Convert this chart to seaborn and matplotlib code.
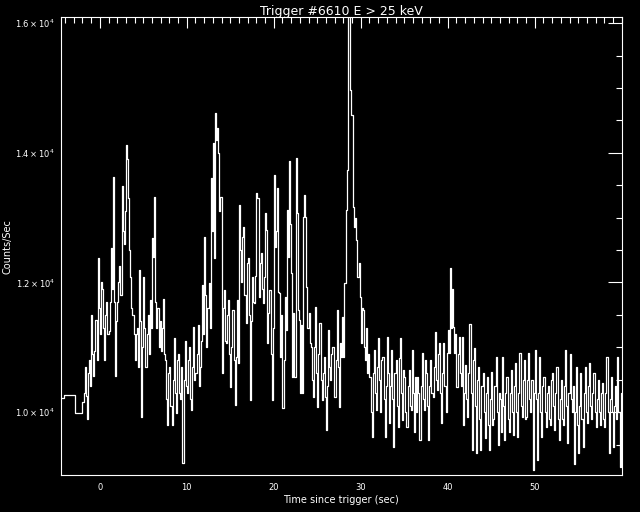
#!/usr/bin/env python3
"""
BATSE-style light curve: Trigger #6610, E > 25 keV.
White step curve on black, IDL look.
"""
import numpy as np
import pandas as pd
import matplotlib
matplotlib.use("Agg")
import matplotlib.pyplot as plt
from matplotlib.ticker import MultipleLocator, FixedLocator
import seaborn as sns

# CONFIGURATION
TITLE = "Trigger #6610 E > 25 keV"
X_LABEL = "Time since trigger (sec)"
Y_LABEL = "Counts/Sec"

# coarse pre-trigger bins: start times and rates
PRE_T = [-4.5, -4.1, -2.8]
PRE_COUNTS = [10211, 10257, 9979]

# fine bins: 0.125 s wide, first one starts at -2.0 s (one row = 1 s)
FINE_T0 = -2.0
FINE_DT = 0.125
T_END = 60.0
FINE_COUNTS = [
    10150, 10300, 10700, 10250, 9900, 10600, 10800, 10400,     # -2
    11500, 10900, 10550, 10950, 11420, 10800, 12370, 11600,    # -1
    11200, 12000, 11900, 11300, 10800, 11500, 11700, 11200,    # 0
    11250, 11700, 12530, 11900, 13625, 11700, 10550, 11400,    # 1
    11700, 12000, 12250, 11800, 13490, 12800, 12600, 13100,    # 2
    14120, 13900, 13300, 12500, 12090, 11600, 11500, 11200,    # 3
    10800, 11200, 11300, 10700, 12190, 11400, 9930, 11000,     # 4
    12090, 11300, 10700, 11200, 11500, 10900, 11730, 11300,    # 5
    12680, 12400, 13325, 11700, 11300, 11600, 11000, 11400,    # 6
    10950, 11300, 11750, 10900, 10800, 10200, 9800, 10600,     # 7
    10700, 10100, 9800, 10500, 11140, 10300, 9980, 10800,      # 8
    10900, 10300, 10200, 10700, 9210, 10500, 11100, 10400,     # 9
    10300, 10800, 11000, 10200, 10030, 10700, 11310, 10500,    # 10
    10600, 10900, 11340, 10400, 10700, 11100, 11960, 11200,    # 11
    12700, 11800, 11009, 11600, 11990, 11300, 13610, 12800,    # 12
    14150, 12370, 14610, 14200, 14380, 14000, 13100, 13325,    # 13
    10600, 11600, 11880, 11100, 11060, 11500, 11730, 10900,    # 14
    10391, 11000, 11575, 10800, 10108, 10850, 11730, 10750,    # 15
    13197, 12500, 12000, 12700, 12862, 11800, 11370, 12300,    # 16
    12373, 11500, 10185, 11400, 12090, 11700, 11678, 12100,    # 17
    13377, 13300, 11781, 12300, 12451, 11900, 11678, 12090,    # 18
    13068, 12811, 11060, 11524, 11884, 10900, 10185, 11300,    # 19
    13660, 12553, 12800, 13455, 11858, 11833, 10855, 11500,    # 20
    10057, 10803, 11781, 11266, 13120, 12400, 13876, 12900,    # 21
    12142, 10546, 11524, 10546, 13918, 13068, 11575, 11421,    # 22
    10288, 11340, 10288, 13017, 13351, 13010, 11935, 11300,    # 23
    11524, 11060, 11009, 10500, 10236, 11000, 11627, 10600,    # 24
    10082, 10900, 11370, 10500, 10185, 10600, 10855, 10236,    # 25
    9722, 10400, 11266, 10700, 10494, 10900, 11009, 10236,     # 26
    10236, 10800, 11575, 10700, 10082, 11060, 10855, 11472,    # 27
    10855, 11987, 13120, 13737, 16105, 16105, 14973, 14587,    # 28
    14587, 13171, 12862, 13000, 12656, 12090, 12300, 11781,    # 29
    11060, 11600, 11575, 11000, 10803, 11300, 10600, 10900,    # 30
    10546, 10000, 9619, 10600, 10958, 10300, 10031, 10700,     # 31
    11138, 10500, 10000, 10800, 10855, 10200, 9619, 10400,     # 32
    11163, 10600, 9825, 10400, 10958, 10200, 9464, 10597,      # 33
    10803, 10100, 9773, 10829, 11138, 10300, 9876, 10649,      # 34
    10546, 10000, 9773, 10400, 10649, 10100, 10031, 10958,     # 35
    10300, 9700, 10546, 10000, 10546, 10288, 9568, 10400,      # 36
    10906, 10200, 10031, 10800, 10597, 10100, 9568, 10400,     # 37
    10803, 10300, 10236, 10700, 11241, 10500, 10340, 10900,    # 38
    11060, 10300, 9825, 10600, 11060, 10400, 10005, 10906,     # 39
    11266, 10906, 12219, 11292, 11895, 11318, 10906, 11200,    # 40
    10391, 10900, 11163, 10600, 10400, 11163, 9799, 10300,     # 41
    10726, 10200, 9928, 10600, 11359, 10300, 9413, 10800,      # 42
    10983, 10100, 9362, 10500, 10700, 9900, 9413, 10400,       # 43
    10597, 10000, 9600, 10300, 10546, 9800, 9413, 10200,       # 44
    10623, 9800, 9900, 10400, 10855, 10000, 9500, 10300,       # 45
    10200, 9700, 10855, 10100, 9568, 10300, 10546, 9900,       # 46
    9700, 10300, 10649, 10000, 9645, 10400, 10752, 10000,      # 47
    9619, 10300, 10906, 10100, 9928, 10500, 10800, 9900,       # 48
    9928, 10500, 10906, 10200, 10000, 10500, 9104, 10300,      # 49
    10958, 10200, 9259, 10300, 10855, 10000, 9619, 10400,      # 50
    10546, 10000, 9773, 10300, 10400, 9900, 9800, 10500,       # 51
    10597, 10100, 9722, 10300, 10700, 9900, 9568, 10200,       # 52
    10500, 9900, 9800, 10400, 10958, 10100, 9516, 10300,       # 53
    10900, 10200, 10000, 10400, 9207, 10000, 10700, 9800,      # 54
    9362, 10100, 10600, 9900, 9465, 10300, 10700, 10000,       # 55
    9825, 10400, 10752, 10100, 9900, 10300, 10597, 10000,      # 56
    9773, 10200, 10500, 10000, 9800, 10300, 10443, 9900,       # 57
    9773, 10300, 10855, 10000, 9362, 10200, 10546, 10000,      # 58
    9465, 10100, 10400, 9900, 10855, 10000, 9156, 10300,       # 59
]

X_TICKS = [0, 10, 20, 30, 40, 50]
Y_TICKS = [10000, 12000, 14000, 16000]
Y_TICK_LABELS = [r"$1.0\times10^{4}$", r"$1.2\times10^{4}$",
                 r"$1.4\times10^{4}$", r"$1.6\times10^{4}$"]
X_RANGE = (-4.5, 60.0)
Y_RANGE = (9030, 16090)


def main():
    # bin start times, then close the last bin with its end edge
    fine_t = FINE_T0 + FINE_DT * np.arange(len(FINE_COUNTS))
    t = np.concatenate([PRE_T, fine_t, [T_END]])
    counts = np.concatenate([PRE_COUNTS, FINE_COUNTS, [FINE_COUNTS[-1]]])
    df = pd.DataFrame({"time": t, "counts": counts})

    sns.set_style("dark")
    plt.rcParams["font.family"] = ["DejaVu Sans"]
    plt.rcParams["mathtext.fontset"] = "dejavusans"

    fig = plt.figure(figsize=(6.4, 5.12), dpi=100, facecolor="black")
    ax = fig.add_axes([0.0948, 0.0723, 0.8766, 0.8939])
    ax.set_facecolor("black")

    sns.lineplot(data=df, x="time", y="counts", ax=ax, color="white",
                 linewidth=0.9, drawstyle="steps-post", estimator=None,
                 sort=False)

    ax.set_xlim(*X_RANGE)
    ax.set_ylim(*Y_RANGE)
    ax.grid(False)

    # IDL-like axes: inward ticks on all four sides
    for s in ax.spines.values():
        s.set_color("white")
        s.set_linewidth(0.8)
        s.set_visible(True)
    ax.xaxis.set_major_locator(FixedLocator(X_TICKS))
    ax.xaxis.set_minor_locator(MultipleLocator(1))
    ax.yaxis.set_major_locator(FixedLocator(Y_TICKS))
    ax.yaxis.set_minor_locator(MultipleLocator(500))
    ax.set_yticklabels(Y_TICK_LABELS)
    ax.tick_params(which="both", direction="in", top=True, right=True,
                   colors="white", width=0.8, labelsize=6)
    ax.tick_params(axis="x", which="major", length=8, pad=6)
    ax.tick_params(axis="x", which="minor", length=4)
    ax.tick_params(axis="y", which="major", length=10, pad=4)
    ax.tick_params(axis="y", which="minor", length=4)

    ax.set_title(TITLE, color="white", fontsize=9, pad=2)
    ax.set_xlabel(X_LABEL, color="white", fontsize=7, labelpad=2)
    ax.set_ylabel(Y_LABEL, color="white", fontsize=7)
    ax.yaxis.set_label_coords(-0.085, 0.5)

    fig.savefig("out.png", dpi=100, facecolor="black")


if __name__ == "__main__":
    main()
